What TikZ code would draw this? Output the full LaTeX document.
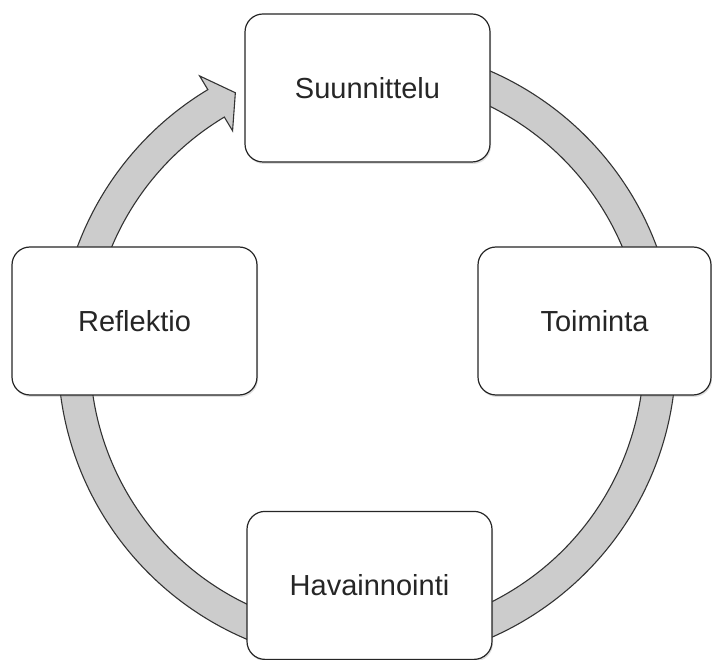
\documentclass[tikz,border=0pt]{standalone}
\usepackage{fontspec}
\setmainfont{Liberation Sans}
\usetikzlibrary{shadows}

\tikzset{
  phase/.style={draw=black!85, line width=1.2pt, fill=white,
    rounded corners=18pt, minimum width=245pt, minimum height=148pt,
    text=black!85, font=\fontsize{29}{34}\selectfont,
    drop shadow={opacity=0.25, shadow xshift=1pt, shadow yshift=-2pt}},
  ring/.style={fill=black!20, draw=black!80, line width=1.1pt, line join=miter}
}

\begin{document}
\begin{tikzpicture}[x=1pt,y=1pt]
  \useasboundingbox (0,0) rectangle (712,659);

% cycle arrow behind the boxes
  \begin{scope}[shift={(367,304.5)}]
    \draw[ring] (90:309) arc[start angle=90, end angle=-239, radius=309]
      -- (-239:325) -- (-243.3:293) -- (-239:261)
      -- (-239:277) arc[start angle=-239, end angle=90, radius=277] -- cycle;
  \end{scope}

% the four phases
  \foreach \name/\x/\y/\w/\label in {
      suunnittelu/367.5/571/245/Suunnittelu,
      toiminta/594.5/338/233/Toiminta,
      havainnointi/369.5/73.6/245/Havainnointi,
      reflektio/134.5/338/245/Reflektio}
  {
    \node[phase, minimum width=\w pt] (\name) at (\x,\y) {\label};
  };

\end{tikzpicture}
\end{document}
